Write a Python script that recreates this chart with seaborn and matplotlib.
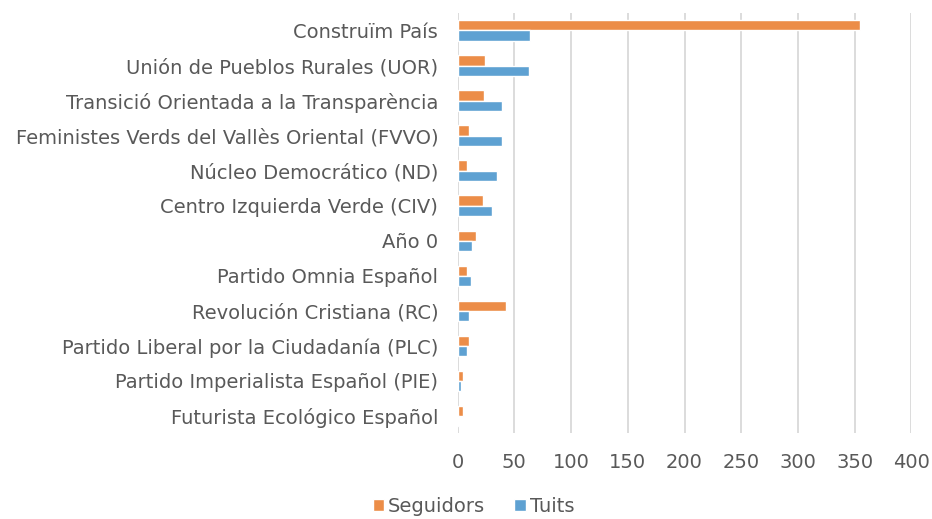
import pandas as pd
import matplotlib.pyplot as plt
import seaborn as sns

# ==========================================
# Data
# ==========================================

partits = [
    "Construïm País",
    "Unión de Pueblos Rurales (UOR)",
    "Transició Orientada a la Transparència",
    "Feministes Verds del Vallès Oriental (FVVO)",
    "Núcleo Democrático (ND)",
    "Centro Izquierda Verde (CIV)",
    "Año 0",
    "Partido Omnia Español",
    "Revolución Cristiana (RC)",
    "Partido Liberal por la Ciudadanía (PLC)",
    "Partido Imperialista Español (PIE)",
    "Futurista Ecológico Español",
]

seguidors = [355, 24, 23, 10, 8, 22, 16, 8, 43, 10, 5, 5]
tuits = [64, 63, 39, 39, 35, 30, 13, 12, 10, 8, 3, 1]

xticks = [0, 50, 100, 150, 200, 250, 300, 350, 400]

df = pd.DataFrame({
    "partit": partits * 2,
    "valor": seguidors + tuits,
    "serie": ["Seguidors"] * len(partits) + ["Tuits"] * len(partits),
})

# ==========================================
# Plot
# ==========================================

sns.set_style("white")
plt.rcParams["font.family"] = ["DejaVu Sans"]

fig, ax = plt.subplots(figsize=(9.32, 5.19), dpi=100)

sns.barplot(
    data=df,
    x="valor",
    y="partit",
    hue="serie",
    hue_order=["Seguidors", "Tuits"],
    palette=["#EC8D48", "#5EA1D2"],
    orient="h",
    width=0.58,
    saturation=1,
    ax=ax,
)

ax.set_xlim(0, 400)
ax.set_xticks(xticks)
ax.set_xlabel("")
ax.set_ylabel("")
ax.grid(axis="x", color="#D9D9D9", linewidth=1.3)
ax.set_axisbelow(True)
sns.despine(ax=ax, left=True, bottom=True)
ax.tick_params(axis="both", length=0, labelsize=14, colors="#595959")
ax.tick_params(axis="y", pad=14)
ax.tick_params(axis="x", pad=14)

handles, labels = ax.get_legend_handles_labels()
ax.legend(
    handles, labels,
    loc="upper center",
    bbox_to_anchor=(0.035, -0.11),
    ncol=2,
    frameon=False,
    fontsize=14,
    labelcolor="#595959",
    handlelength=0.6,
    handleheight=0.6,
    handletextpad=0.2,
    columnspacing=1.5,
)

plt.subplots_adjust(left=0.491, right=0.978, top=0.975, bottom=0.165)

plt.savefig("out.png", dpi=100)
